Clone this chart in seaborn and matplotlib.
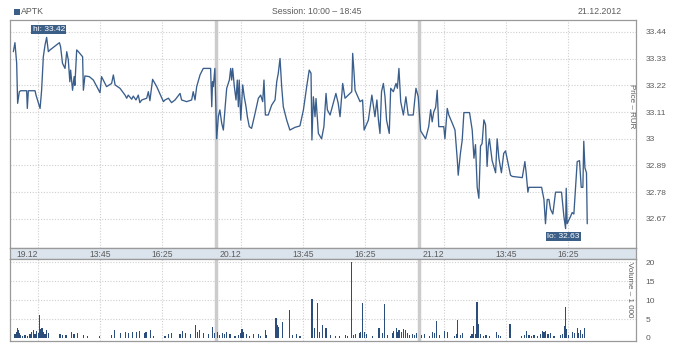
import numpy as np
import pandas as pd
import matplotlib
matplotlib.use("Agg")
import matplotlib.pyplot as plt
from matplotlib.patches import Rectangle
import seaborn as sns

# ---------------- data ----------------
ticker = "APTK"
session_text = "Session: 10:00 \u2013 18:45"
date_text = "21.12.2012"
day_labels = ["19.12", "20.12", "21.12"]
session_len = 525  # minutes 10:00-18:45
time_labels = ["13:45", "16:25"]
time_label_min = [225, 385]
grid_min = [65, 225, 385]
price_ticks = [32.67, 32.78, 32.89, 33.0, 33.11, 33.22, 33.33, 33.44]
price_tick_labels = ["32.67", "32.78", "32.89", "33", "33.11", "33.22", "33.33", "33.44"]
vol_ticks = [0, 5, 10, 15, 20]

# minutes since 10:00 within each session, and prices (RUR)
d1_min = [1, 5, 9.5, 12, 16.4, 19.8, 35.3, 37, 39.7, 57, 59.5, 70, 74, 78.4, 82.8, 87, 91.4, 95.7,
          120, 123, 128, 134.5, 139, 143, 147, 149, 154, 158, 160, 164.7, 169, 180, 182, 186,
          197.4, 207.8, 225, 229, 242, 255, 259.5, 264, 276.7, 289.7, 294, 298, 307, 311, 318,
          324, 328, 333, 345.7, 350, 354, 361, 371.6, 389, 393, 402, 410, 419, 432, 436, 449,
          462, 466, 470.7, 475, 483.6, 492, 511, 514, 516, 518, 522]
d1_px = [33.359, 33.396, 33.311, 33.146, 33.194, 33.198, 33.198, 33.125, 33.198, 33.198, 33.18,
         33.125, 33.20, 33.338, 33.386, 33.418, 33.359, 33.366, 33.396, 33.38, 33.311, 33.29,
         33.359, 33.325, 33.235, 33.283, 33.20, 33.256, 33.22, 33.366, 33.359, 33.338, 33.20,
         33.259, 33.256, 33.242, 33.19, 33.256, 33.215, 33.228, 33.263, 33.222, 33.208, 33.18,
         33.167, 33.18, 33.163, 33.176, 33.16, 33.18, 33.149, 33.16, 33.167, 33.194, 33.157,
         33.245, 33.215, 33.153, 33.16, 33.167, 33.149, 33.16, 33.187, 33.16, 33.153, 33.16,
         33.194, 33.16, 33.215, 33.263, 33.29, 33.29, 33.132, 33.235, 33.215, 33.29]
d2_min = [1.7, 6, 10, 14.7, 19, 23, 27.6, 34.5, 38, 40.5, 43, 47.4, 51.7, 55, 57.8, 60, 64, 69,
          73, 77.6, 81, 86, 92, 101, 109.5, 115.5, 120.7, 124, 127.6, 135, 144, 152.6, 157,
          161, 165.5, 169.8, 174, 182.8, 191, 204, 217, 226, 234.5, 241, 245.7, 248, 251.7,
          256, 258.6, 264.7, 273, 279, 284.5, 288, 295, 303, 310, 316, 320.7, 327.6, 333.6,
          351, 353.4, 357, 359.5, 372.4, 379, 383, 394, 403, 411, 416, 420, 424, 428, 432.8,
          437, 441, 448, 451.7, 458.6, 465.5, 469, 473, 477.6, 484.5, 491, 497, 510, 517, 523]
d2_px = [33.0, 33.091, 33.119, 33.064, 33.036, 33.119, 33.208, 33.242, 33.29, 33.242, 33.29,
         33.215, 33.16, 33.242, 33.132, 33.242, 33.077, 33.222, 33.173, 33.132, 33.091, 33.05,
         33.043, 33.105, 33.167, 33.18, 33.153, 33.242, 33.098, 33.098, 33.139, 33.16, 33.235,
         33.27, 33.331, 33.215, 33.132, 33.077, 33.036, 33.047, 33.053, 33.119, 33.215,
         33.283, 33.27, 32.995, 33.173, 33.091, 33.166, 33.022, 33.0, 33.05, 33.187, 33.119,
         33.098, 33.146, 33.187, 33.146, 33.091, 33.228, 33.167, 33.194, 33.352, 33.27, 33.2,
         33.153, 33.16, 33.036, 33.077, 33.18, 33.091, 33.16, 33.077, 33.022, 33.194, 33.228,
         33.173, 33.077, 33.022, 33.208, 33.194, 33.228, 33.208, 33.29, 33.153, 33.098,
         33.173, 33.098, 33.098, 33.208, 33.173]
d3_min = [4, 17, 25, 30, 34, 38, 43, 47, 51, 64, 67, 73, 77, 86, 93, 99, 101.3, 107, 111.6, 116,
          130.6, 137.5, 142, 146, 150.4, 154.7, 159, 163, 167.7, 172, 176, 179, 182, 189, 198,
          202, 206.5, 213, 219, 223.7, 236.6, 241, 267, 273.7, 277, 281.5, 284, 317, 323, 327,
          331.5, 336, 340, 346, 353, 368.5, 374.6, 379, 380.6, 383, 391.8, 396, 400.4, 404.7,
          409, 415, 419.4, 423.7, 426, 429, 433, 435]
d3_px = [33.033, 33.0, 33.05, 33.12, 33.07, 33.11, 33.13, 33.20, 33.05, 33.05, 33.0, 33.125,
         33.098, 33.064, 33.036, 32.912, 32.85, 32.94, 32.994, 33.108, 33.108, 33.036, 32.92,
         32.976, 32.80, 32.755, 32.97, 32.98, 33.078, 33.058, 32.886, 32.97, 33.0, 32.91,
         32.86, 33.0, 32.92, 32.86, 32.94, 32.95, 32.85, 32.845, 32.84, 32.906, 32.86, 32.78,
         32.80, 32.80, 32.75, 32.65, 32.75, 32.75, 32.71, 32.69, 32.78, 32.78, 32.68, 32.63,
         32.796, 32.65, 32.68, 32.696, 32.69, 32.80, 32.906, 32.91, 32.80, 32.80, 32.99, 32.88,
         32.86, 32.65]

# volume (thousands), time = minutes since 10:00 on 19.12 counted across sessions
vol_min = [5, 8, 11, 14, 16, 20, 25, 31, 37, 44, 48, 53, 57, 61, 65.5, 68, 71.6, 75, 78.4, 82.8,
           87, 91, 121.6, 128.4, 137, 151.7, 157.8, 166, 182, 192, 223, 255, 262, 278.4, 290,
           298, 309.5, 320, 328, 339, 344, 356, 363, 393, 402, 410, 432, 439, 445, 459.5, 471,
           477, 482, 492, 505, 515.5, 522,
           528, 535, 542, 546, 552.6, 561, 574, 583, 589, 592, 596, 604, 611, 623, 634.5, 639,
           652, 656, 680, 683.6, 687, 697, 715, 723, 733.6, 742, 771, 774, 779, 787, 792, 800,
           809.5, 820, 833, 844, 860, 866, 875, 880, 886, 895, 899, 903, 908, 915, 930, 946.6,
           955, 961, 968, 981, 985, 992, 995, 998, 1004, 1009, 1014, 1020, 1026, 1033, 1039,
           1044,
           1056, 1065, 1076, 1084.5, 1090.5, 1095, 1104, 1115, 1123.6, 1141, 1146, 1149.6,
           1156.5, 1162.6, 1182.6, 1187, 1191, 1195.7, 1200, 1203, 1210, 1217, 1223, 1232,
           1250.9, 1255, 1260, 1285.3, 1315, 1322, 1328.4, 1334.5, 1340.5, 1347.4, 1356,
           1364.7, 1369, 1373, 1377.6, 1383.6, 1390.5, 1399, 1416, 1421, 1426, 1429, 1431.5,
           1437.5, 1446, 1452, 1459, 1463, 1468, 1472, 1478]
vol_k = [1.0, 1.5, 2.7, 2.0, 1.2, 0.8, 0.6, 0.8, 0.6, 1.0, 1.5, 2.0, 1.0, 1.8, 1.2, 6.0, 2.5, 2.6,
         1.5, 1.0, 2.0, 1.2, 1.0, 0.8, 0.7, 1.6, 1.0, 1.2, 0.8, 0.5, 0.6, 0.8, 2.2, 1.2, 1.5,
         1.2, 1.6, 1.5, 1.8, 1.2, 1.6, 2.2, 0.5, 0.6, 1.0, 1.2, 1.0, 1.8, 1.2, 1.0, 3.4, 1.5,
         2.0, 1.2, 1.0, 3.0, 1.2,
         1.5, 0.8, 1.2, 1.0, 1.5, 1.0, 0.6, 0.8, 1.2, 2.5, 1.5, 1.0, 0.6, 1.0, 1.0, 0.6, 2.2,
         0.8, 5.2, 3.5, 3.0, 4.3, 7.4, 0.8, 1.0, 0.6, 10.3, 10.3, 2.7, 9.1, 1.5, 3.5, 2.7, 0.8,
         0.6, 0.6, 0.8, 0.6, 20.0, 0.8, 1.0, 1.2, 1.5, 9.1, 1.5, 1.0, 0.5, 2.7, 1.2, 8.9, 0.8,
         1.2, 1.8, 2.7, 1.5, 2.2, 1.5, 2.5, 2.2, 1.2, 0.8, 1.0, 0.8, 1.2,
         0.8, 1.0, 0.6, 1.6, 1.2, 4.4, 0.8, 1.8, 1.6, 0.6, 1.0, 4.7, 0.8, 1.2, 0.5, 1.0, 3.2,
         1.0, 9.6, 3.6, 1.0, 0.6, 0.8, 0.6, 1.5, 0.8, 0.6, 3.6, 0.6, 0.8, 1.8, 0.8, 0.6, 0.8,
         0.6, 1.0, 1.8, 1.5, 1.8, 1.0, 1.2, 0.6, 0.8, 1.0, 3.2, 8.2, 2.5, 0.8, 1.6, 1.4, 2.7,
         1.2, 2.2, 1.0, 2.6]

# ---------------- build frames ----------------
price_df = pd.concat([
    pd.DataFrame({"t": np.array(m) + i * session_len, "price": p})
    for i, (m, p) in enumerate([(d1_min, d1_px), (d2_min, d2_px), (d3_min, d3_px)])
], ignore_index=True)
vol_df = pd.DataFrame({"t": vol_min, "vol": vol_k})

# ---------------- style ----------------
sns.set_style("white")
plt.rcParams["font.family"] = ["Liberation Sans", "DejaVu Sans"]

LINE = "#3a5e8c"
BAR = "#2a4d7c"
GRID = "#cfcfcf"
FRAME = "#9a9a9a"
TXT = "#5c5c5c"
SEP = "#cccccc"
BAND = "#dbe3ec"

W, H = 688, 345
fig = plt.figure(figsize=(W / 100, H / 100), dpi=100)

def box(x0, y0, x1, y1):
    return [x0 / W, 1 - y1 / H, (x1 - x0) / W, (y1 - y0) / H]

ax = fig.add_axes(box(10, 20, 636, 248))
band = fig.add_axes(box(10, 248, 636, 259))
axv = fig.add_axes(box(10, 259, 636, 341))

px_per_min = 0.3867
xmin = (10 - 13) / px_per_min
xmax = (636 - 13) / px_per_min
day_starts = [i * session_len for i in range(3)]
grid_x = [d + g for d in day_starts for g in grid_min]

# price panel
sns.lineplot(data=price_df, x="t", y="price", ax=ax, color=LINE, linewidth=0.95,
             estimator=None, sort=False)
ax.set_xlim(xmin, xmax)
ax.set_ylim(33.44 - 216 / 242.7, 33.44 + 12 / 242.7)
for yv in price_ticks:
    ax.axhline(yv, color=GRID, lw=0.8, ls=(0, (1, 1.5)), zorder=0)
for xv in grid_x:
    ax.axvline(xv, color=GRID, lw=0.8, ls=(0, (1, 1.5)), zorder=0)
for d in day_starts[1:]:
    ax.axvline(d, color=SEP, lw=2.5, zorder=1)
ax.yaxis.tick_right()
ax.set_yticks(price_ticks)
ax.set_yticklabels(price_tick_labels)
ax.tick_params(axis="y", length=0, pad=7, labelsize=6, colors=TXT)
ax.set_xticks([])
ax.set_xlabel("")
ax.set_ylabel("")
ax.text(0.9935, 0.62, "Price \u2013 RUR", transform=ax.transAxes, rotation=270,
        ha="center", va="center", fontsize=5.8, color=TXT)

# hi / lo labels
imax = price_df["price"].idxmax()
imin = price_df["price"].idxmin()
bbox = dict(boxstyle="square,pad=0.15", fc="#3c5f88", ec="none")
ax.annotate(f"hi: {price_df.loc[imax, 'price']:.2f}",
            (price_df.loc[imax, "t"], price_df.loc[imax, "price"]),
            xytext=(2, 8), textcoords="offset pixels", ha="center", va="center",
            fontsize=6, color="white", bbox=bbox)
ax.annotate(f"lo: {price_df.loc[imin, 'price']:.2f}",
            (price_df.loc[imin, "t"], price_df.loc[imin, "price"]),
            xytext=(-2, -8), textcoords="offset pixels", ha="center", va="center",
            fontsize=6, color="white", bbox=bbox)

# band with time labels
band.set_xlim(xmin, xmax)
band.set_ylim(0, 1)
band.set_facecolor(BAND)
band.set_xticks([])
band.set_yticks([])
for i, d in enumerate(day_starts):
    band.text(d + 8, 0.45, day_labels[i], ha="left", va="center", fontsize=6.2, color=TXT)
    for lab, m in zip(time_labels, time_label_min):
        band.text(d + m, 0.45, lab, ha="center", va="center", fontsize=6.2, color=TXT)

# volume panel
axv.bar(vol_df["t"], vol_df["vol"], width=3.0, color=BAR, linewidth=0, zorder=2)
axv.set_xlim(xmin, xmax)
axv.set_ylim(-0.79, 20.8)
for yv in vol_ticks[1:]:
    axv.axhline(yv, color=GRID, lw=0.8, ls=(0, (1, 1.5)), zorder=0)
for xv in grid_x:
    axv.axvline(xv, color=GRID, lw=0.8, ls=(0, (1, 1.5)), zorder=0)
for d in day_starts[1:]:
    axv.axvline(d, color=SEP, lw=2.5, zorder=1)
axv.yaxis.tick_right()
axv.set_yticks(vol_ticks)
axv.tick_params(axis="y", length=0, pad=7, labelsize=6, colors=TXT)
axv.set_xticks([])
axv.text(0.989, 0.62, "Volume \u2013 1 000", transform=axv.transAxes, rotation=270,
         ha="center", va="center", fontsize=5.8, color=TXT)

for a in (ax, band, axv):
    for s in a.spines.values():
        s.set_color(FRAME)
        s.set_linewidth(0.9)

# header
fig.patches.append(Rectangle((14 / W, 1 - 15 / H), 6 / W, 6 / H, transform=fig.transFigure,
                             fc="#3c5f88", ec="none"))
fig.text(21 / W, 1 - 11.5 / H, ticker, ha="left", va="center", fontsize=6.3, color=TXT)
fig.text(317 / W, 1 - 11.5 / H, session_text, ha="center", va="center", fontsize=6.3, color=TXT)
fig.text(622 / W, 1 - 11.5 / H, date_text, ha="right", va="center", fontsize=6.3, color=TXT)

fig.savefig("out.png", dpi=100)
